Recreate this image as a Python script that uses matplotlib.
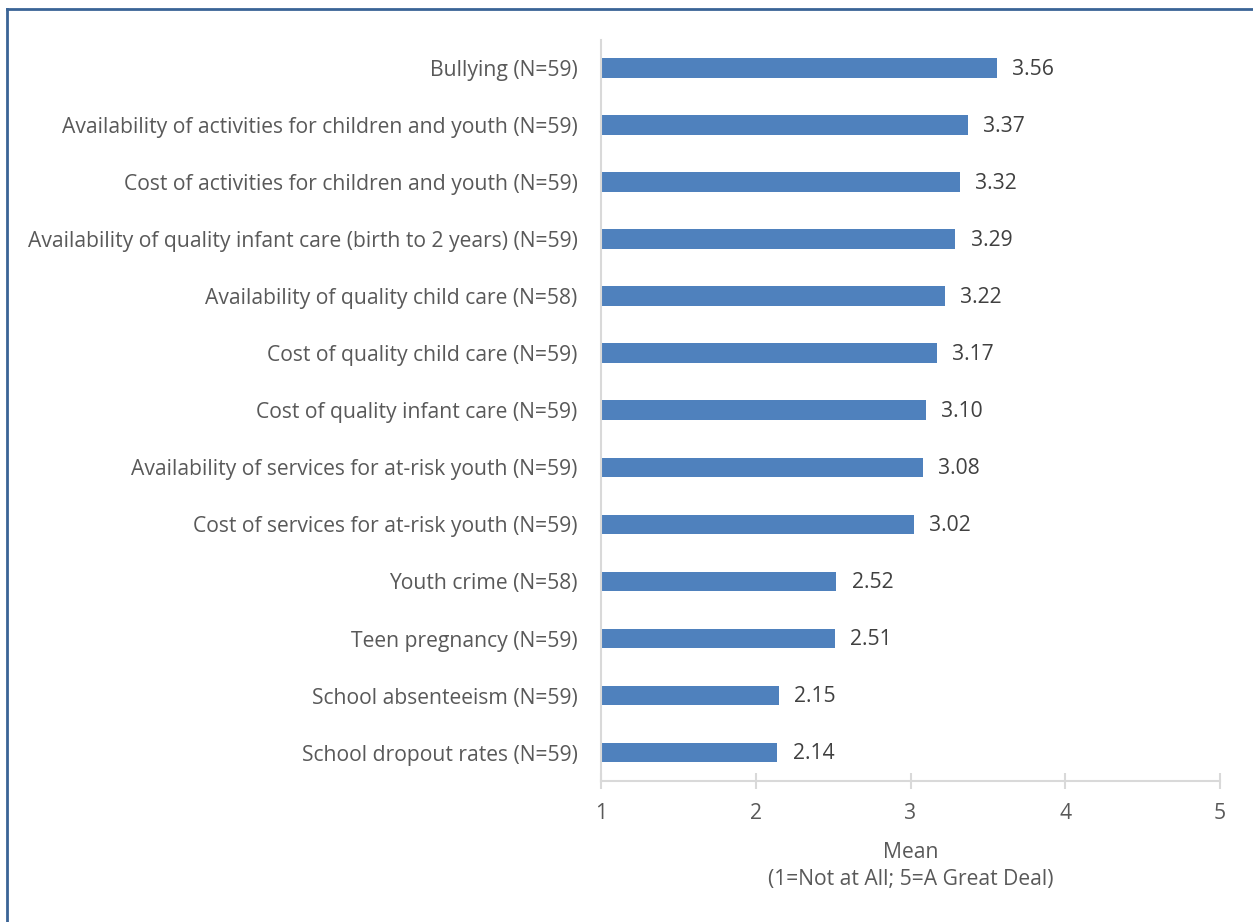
import matplotlib
matplotlib.use("Agg")
import matplotlib.pyplot as plt
from matplotlib.lines import Line2D

categories = [
    "Bullying (N=59)",
    "Availability of activities for children and youth (N=59)",
    "Cost of activities for children and youth (N=59)",
    "Availability of quality infant care (birth to 2 years) (N=59)",
    "Availability of quality child care (N=58)",
    "Cost of quality child care (N=59)",
    "Cost of quality infant care (N=59)",
    "Availability of services for at-risk youth (N=59)",
    "Cost of services for at-risk youth (N=59)",
    "Youth crime (N=58)",
    "Teen pregnancy (N=59)",
    "School absenteeism (N=59)",
    "School dropout rates (N=59)",
]
means = [3.56, 3.37, 3.32, 3.29, 3.22, 3.17, 3.10, 3.08, 3.02, 2.52, 2.51, 2.15, 2.14]
xticks = [1, 2, 3, 4, 5]

plt.rcParams["font.family"] = ["Open Sans", "DejaVu Sans"]
txt = "#595959"
grid = "#d9d9d9"
fs = 15.2

fig = plt.figure(figsize=(12.53, 9.22), dpi=100)
ax = fig.add_axes([0.4797, 0.1529, 0.494, 0.8038])

ypos = list(range(len(categories)))
ax.barh(ypos, [m - 1 for m in means], left=1, height=0.35, color="#4f81bd")
for y, m in zip(ypos, means):
    ax.annotate(f"{m:.2f}", (m, y), xytext=(11, -0.5), textcoords="offset points",
                va="center", ha="left", fontsize=fs, color="#404040")

ax.set_xlim(1, 5)
ax.set_ylim(len(categories) - 0.5, -0.5)
ax.set_yticks(ypos)
ax.set_yticklabels(categories)
ax.set_xticks(xticks)
ax.set_xticklabels([str(t) for t in xticks])

for s in ["top", "right"]:
    ax.spines[s].set_visible(False)
for s in ["left", "bottom"]:
    ax.spines[s].set_color(grid)
    ax.spines[s].set_linewidth(1.5)

ax.tick_params(axis="y", length=0, pad=17, labelsize=fs, labelcolor=txt)
ax.tick_params(axis="x", direction="inout", length=11, width=1.5, color=grid,
               pad=10, labelsize=fs, labelcolor=txt)
ax.set_xlabel("Mean\n(1=Not at All; 5=A Great Deal)", fontsize=fs, color=txt,
              labelpad=13, linespacing=1.4)

# chart frame (top and left edges only)
fig.add_artist(Line2D([7 / 1253, 7 / 1253], [0, 1 - 9 / 922], transform=fig.transFigure,
                      color="#3a6496", linewidth=2))
fig.add_artist(Line2D([7 / 1253, 1], [1 - 9 / 922, 1 - 9 / 922], transform=fig.transFigure,
                      color="#3a6496", linewidth=2))

fig.savefig("out.png", dpi=100)
